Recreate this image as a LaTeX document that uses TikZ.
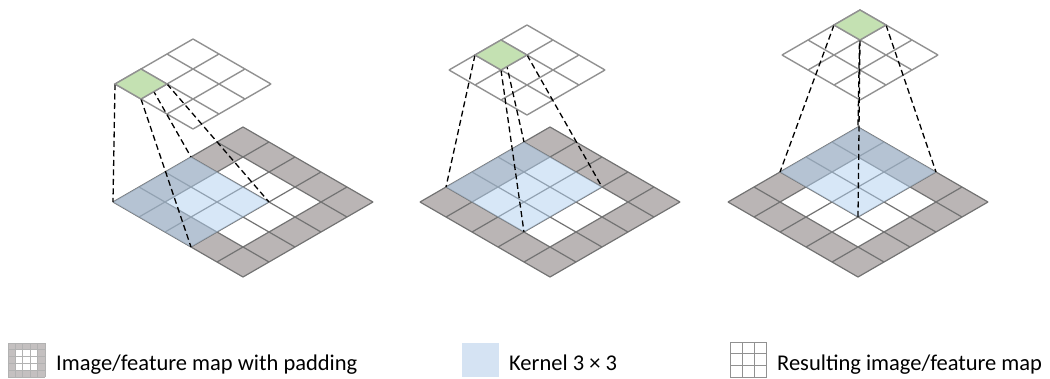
\documentclass[tikz,border=0pt]{standalone}
\usepackage{fontspec}
\setmainfont{Carlito}

\definecolor{padgray}{RGB}{186,181,181}
\definecolor{lowline}{RGB}{115,115,115}
\definecolor{upline}{RGB}{145,145,145}
\definecolor{kernelblue}{RGB}{177,209,241}
\definecolor{legendblue}{RGB}{213,227,243}
\definecolor{cellgreen}{RGB}{196,225,178}

\tikzset{
  padline/.style={draw=lowline, line width=1.2pt},
  outline/.style={draw=upline, line width=1.4pt},
  dashline/.style={draw=black, line width=1.3pt, dash pattern=on 6pt off 3.5pt},
  legendtext/.style={anchor=base west, inner sep=0pt, font=\fontsize{22.5}{27}\selectfont},
}

% One convolution step: padded 5x5 input, 3x3 kernel window, 3x3 output.
% #1 = left corner of the input grid, #2 = left corner of the output grid,
% #3 = stride position of the window, #4 = panel id
\newcommand\convpanel[4]{%
  \begin{scope}[shift={(#1)}, x={(26pt,15pt)}, y={(26pt,-15pt)}]
    \fill[padgray] (0,0) -- (5,0) -- (5,5) -- (0,5) -- cycle;
    \fill[white] (1,1) -- (4,1) -- (4,4) -- (1,4) -- cycle;
    \foreach \t in {0,...,5} {
      \draw[padline] (\t,0) -- (\t,5);
      \draw[padline] (0,\t) -- (5,\t);
    }
    \fill[kernelblue, fill opacity=0.5]
      (#3,0) -- ({#3+3},0) -- ({#3+3},3) -- (#3,3) -- cycle;
    \coordinate (k#4l) at (#3,0);
    \coordinate (k#4t) at ({#3+3},0);
    \coordinate (k#4r) at ({#3+3},3);
    \coordinate (k#4b) at (#3,3);
  \end{scope}
  \begin{scope}[shift={(#2)}, x={(26pt,15pt)}, y={(26pt,-15pt)}]
    \fill[white] (0,0) -- (3,0) -- (3,3) -- (0,3) -- cycle;
    \foreach \t in {0,...,3} {
      \draw[outline] (\t,0) -- (\t,3);
      \draw[outline] (0,\t) -- (3,\t);
    }
    \coordinate (g#4l) at (#3,0);
    \coordinate (g#4t) at ({#3+1},0);
    \coordinate (g#4r) at ({#3+1},1);
    \coordinate (g#4b) at (#3,1);
  \end{scope}
  \draw[dashline] (g#4l) -- (k#4l);
  \draw[dashline, dash phase=4.5pt] (g#4t) -- (k#4t);
  \draw[dashline] (g#4r) -- (k#4r);
  \draw[dashline] (g#4b) -- (k#4b);
  \filldraw[fill=cellgreen, outline] (g#4l) -- (g#4t) -- (g#4r) -- (g#4b) -- cycle;
}

\begin{document}
\begin{tikzpicture}[x=1pt, y=-1pt]
  \useasboundingbox (0,0) rectangle (1050,378);

  \coordinate (in1) at (113,202);
  \coordinate (out1) at (115,84);
  \coordinate (in2) at (420,202);
  \coordinate (out2) at (449,70);
  \coordinate (in3) at (728,202);
  \coordinate (out3) at (782,55);

  \convpanel{in1}{out1}{0}{a}
  \convpanel{in2}{out2}{1}{b}
  \convpanel{in3}{out3}{2}{c}

  % legend: padded map
  \coordinate (icon1) at (8,343);
  \begin{scope}[shift={(icon1)}, x=7.4pt, y=-6.8pt]
    \fill[padgray!85!white] (0,0) rectangle (5,5);
    \fill[white] (1,1) rectangle (4,4);
    \foreach \t in {0,...,5} {
      \draw[upline!70!white, line width=0.7pt] (\t,0) -- (\t,5);
      \draw[upline!70!white, line width=0.7pt] (0,\t) -- (5,\t);
    }
  \end{scope}
  \node[legendtext] (lab1) at (56,370) {Image/feature map with padding};

  % legend: kernel
  \fill[legendblue] (462,343) rectangle (499,377);
  \node[legendtext] (lab2) at (509,370) {Kernel 3 × 3};

  % legend: output map
  \coordinate (icon3) at (730,342);
  \begin{scope}[shift={(icon3)}, x=12.3pt, y=-11.7pt]
    \fill[white] (0,0) rectangle (3,3);
    \foreach \t in {0,...,3} {
      \draw[upline, line width=0.9pt] (\t,0) -- (\t,3);
      \draw[upline, line width=0.9pt] (0,\t) -- (3,\t);
    }
  \end{scope}
  \node[legendtext] (lab3) at (777,370) {Resulting image/feature map};
\end{tikzpicture}
\end{document}
